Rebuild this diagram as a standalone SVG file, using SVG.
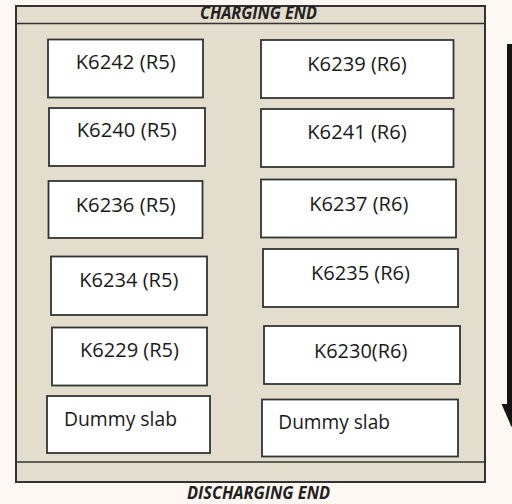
<svg xmlns="http://www.w3.org/2000/svg" width="512" height="504" viewBox="0 0 512 504">
<style>
.frame{fill:#e2ddcc;stroke:#333;stroke-width:2}
.band{stroke:#333;stroke-width:1.5;fill:none}
.box{fill:#fff;stroke:#333;stroke-width:1.8}
.lbl{font-family:"Open Sans","Liberation Sans",sans-serif;font-size:19.5px;fill:#1a1a1a}
.end{font-family:"Open Sans","Liberation Sans",sans-serif;font-size:17.5px;font-weight:bold;font-style:italic;fill:#222}
</style>
<rect width="512" height="504" fill="#fdf8f1"/>
<g id="frame">
<rect class="frame" x="16" y="6" width="469" height="476"/>
<line class="band" x1="16" y1="23.5" x2="485" y2="23.5"/>
<line class="band" x1="16" y1="462" x2="485" y2="462"/>
<text class="end" x="200" y="19" textLength="117" lengthAdjust="spacingAndGlyphs">CHARGING END</text>
<text class="end" x="187" y="498.5" textLength="143" lengthAdjust="spacingAndGlyphs">DISCHARGING END</text>
</g>
<g id="n-k6242"><rect class="box" x="48" y="39.5" width="155" height="58"/><text class="lbl" x="75.7" y="69.3" textLength="100" lengthAdjust="spacingAndGlyphs">K6242 (R5)</text></g>
<g id="n-k6240"><rect class="box" x="49" y="108" width="156" height="58"/><text class="lbl" x="76.7" y="137.3" textLength="100" lengthAdjust="spacingAndGlyphs">K6240 (R5)</text></g>
<g id="n-k6236"><rect class="box" x="48.5" y="181" width="154" height="57"/><text class="lbl" x="75.7" y="211.7" textLength="100" lengthAdjust="spacingAndGlyphs">K6236 (R5)</text></g>
<g id="n-k6234"><rect class="box" x="51" y="256.5" width="156" height="58.5"/><text class="lbl" x="79.3" y="286.7" textLength="99" lengthAdjust="spacingAndGlyphs">K6234 (R5)</text></g>
<g id="n-k6229"><rect class="box" x="52" y="327.5" width="155" height="58"/><text class="lbl" x="80" y="357" textLength="99" lengthAdjust="spacingAndGlyphs">K6229 (R5)</text></g>
<g id="n-dummy-left"><rect class="box" x="47" y="396" width="163" height="57"/><text class="lbl" x="64" y="426" textLength="113" lengthAdjust="spacingAndGlyphs">Dummy slab</text></g>
<g id="n-k6239"><rect class="box" x="261" y="40" width="192.5" height="58"/><text class="lbl" x="307.3" y="70.7" textLength="99.4" lengthAdjust="spacingAndGlyphs">K6239 (R6)</text></g>
<g id="n-k6241"><rect class="box" x="261" y="109" width="192.5" height="58"/><text class="lbl" x="307.3" y="139.3" textLength="99.4" lengthAdjust="spacingAndGlyphs">K6241 (R6)</text></g>
<g id="n-k6237"><rect class="box" x="261" y="179.5" width="195" height="58"/><text class="lbl" x="309.3" y="210.7" textLength="99" lengthAdjust="spacingAndGlyphs">K6237 (R6)</text></g>
<g id="n-k6235"><rect class="box" x="263" y="249" width="195" height="58"/><text class="lbl" x="311" y="280" textLength="99" lengthAdjust="spacingAndGlyphs">K6235 (R6)</text></g>
<g id="n-k6230"><rect class="box" x="264" y="326" width="196" height="58"/><text class="lbl" x="314" y="358.3" textLength="93.3" lengthAdjust="spacingAndGlyphs">K6230(R6)</text></g>
<g id="n-dummy-right"><rect class="box" x="262" y="399.5" width="196" height="57"/><text class="lbl" x="278.3" y="429.3" textLength="111.7" lengthAdjust="spacingAndGlyphs">Dummy slab</text></g>
<g id="connectors">
<rect x="507" y="44" width="9" height="361" fill="#141414"/>
<polygon points="501.5,404 521.5,404 511.5,427" fill="#141414"/>
</g>
</svg>
